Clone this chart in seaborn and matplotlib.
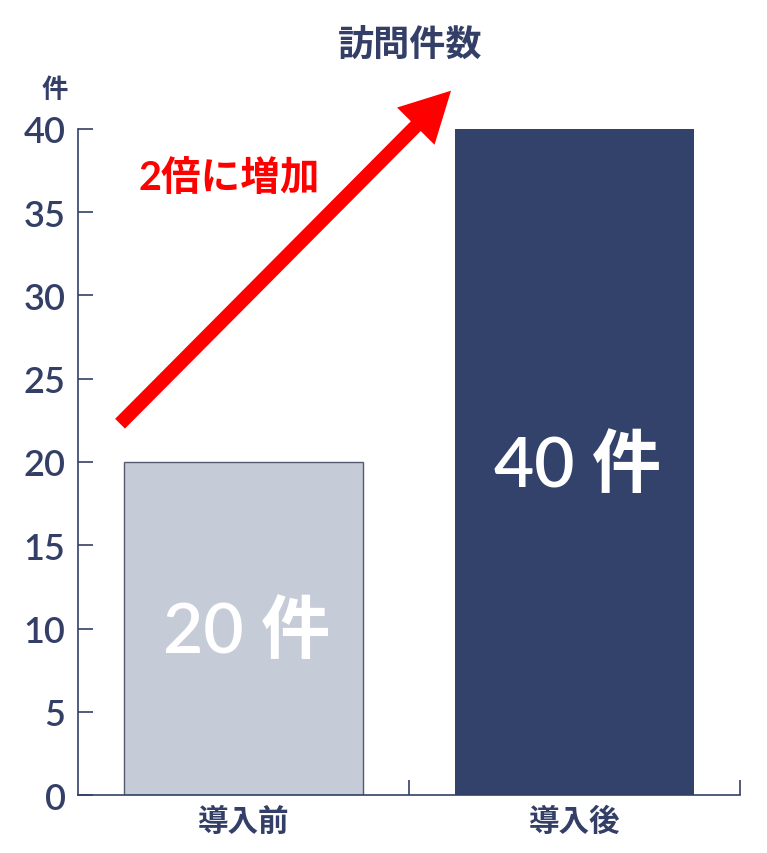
import matplotlib
matplotlib.use('Agg')
import matplotlib.pyplot as plt
import seaborn as sns
import pandas as pd

# datos
categorias = ['導入前', '導入後']
visitas = [20, 40]
colores = ['#C6CBD8', '#33426B']
etiquetas = ['20 件', '40 件']
yticks = [0, 5, 10, 15, 20, 25, 30, 35, 40]

TXT = '#333F66'

sns.set_theme(style='white')
plt.rcParams['font.family'] = ['Lato', 'Noto Sans CJK JP', 'DejaVu Sans']

df = pd.DataFrame({'cat': categorias, 'n': visitas})

fig = plt.figure(figsize=(7.67, 8.54), dpi=100)
ax = fig.add_axes([0.1017, 0.0679, 0.8631, 0.7799])

sns.barplot(data=df, x='cat', y='n', hue='cat', palette=colores, width=0.72,
            legend=False, ax=ax, saturation=1)
for i, p in enumerate(ax.patches):
    if i == 0:
        p.set_edgecolor('#555A70')
        p.set_linewidth(1.0)
    else:
        p.set_edgecolor('none')

ax.set_xlim(-0.5, 1.5)
ax.set_ylim(0, 40)
ax.set_yticks(yticks)
ax.set_xticks([0, 1])
ax.set_xticks([0.5, 1.5], minor=True)
ax.set_xticklabels(categorias, fontsize=22, fontweight='bold', color=TXT,
                   family=['Noto Sans CJK JP'])
ax.set_yticklabels([str(v) for v in yticks], fontsize=26, color=TXT, fontweight='semibold')
ax.tick_params(axis='y', direction='in', length=11, width=1.2, color=TXT, pad=9, left=True)
ax.tick_params(axis='x', which='major', length=0, pad=7)
ax.tick_params(axis='x', which='minor', direction='in', length=11, width=1.2, color=TXT, bottom=True)
ax.set_xlabel('')
ax.set_ylabel('')
for s in ['top', 'right']:
    ax.spines[s].set_visible(False)
for s in ['left', 'bottom']:
    ax.spines[s].set_color(TXT)
    ax.spines[s].set_linewidth(1.2)

# etiquetas dentro de las barras
for i, (v, t) in enumerate(zip(visitas, etiquetas)):
    ax.text(i + 0.01, v / 2 - 0.2, t, ha='center', va='center', color='white', fontsize=50,
            fontweight='semibold')

fig.text(0.535, 0.947, '訪問件数', ha='center', va='center', fontsize=26,
         fontweight='bold', color=TXT, family=['Noto Sans CJK JP'])
fig.text(0.072, 0.894, '件', ha='center', va='center', fontsize=19,
         fontweight='bold', color=TXT, family=['Noto Sans CJK JP'])

# flecha y texto rojo
ax.annotate('', xy=(0.627, 42.3), xytext=(-0.373, 22.3), annotation_clip=False,
            arrowprops=dict(facecolor='red', edgecolor='none', width=10,
                            headwidth=38, headlength=36, shrink=0))
ax.text(-0.044, 37.1, '2倍に増加', ha='center', va='center', color='#FF0000',
        fontsize=28.5, fontweight='bold', family=['Lato', 'Noto Sans CJK JP'])

fig.savefig('out.png', dpi=100)
